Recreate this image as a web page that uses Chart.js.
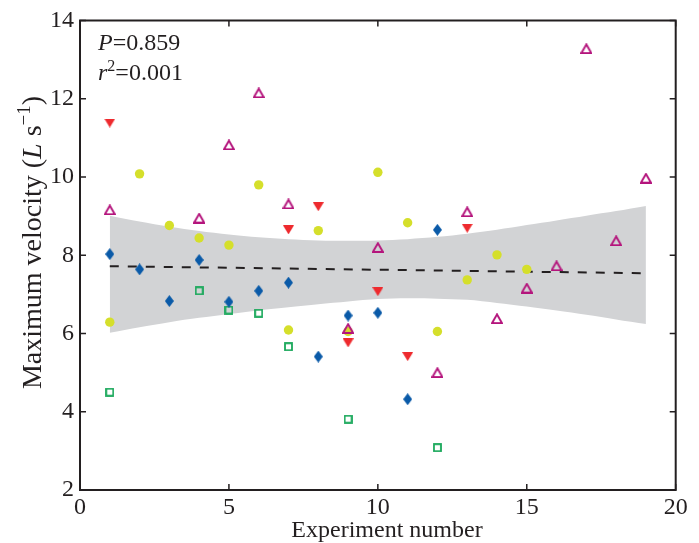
<!DOCTYPE html>
<html><head><meta charset="utf-8">
<script src="https://cdn.jsdelivr.net/npm/chart.js@4.4.1/dist/chart.umd.min.js"></script>
<style>html,body{margin:0;padding:0;background:#fff;}canvas{display:block;}</style>
</head><body>
<canvas id="c" width="699" height="543"></canvas>
<script>
// ---- data ----
const blueX = [1, 2, 3, 4, 5, 6, 7, 8, 9, 10, 11, 12];
const blueY = [8.03, 7.64, 6.83, 7.88, 6.81, 7.09, 7.30, 5.41, 6.46, 6.53, 4.32, 8.65];

const yellowX = [1, 2, 3, 4, 5, 6, 7, 8, 9, 10, 11, 12, 13, 14, 15];
const yellowY = [6.29, 10.08, 8.76, 8.44, 8.26, 9.80, 6.09, 8.63, 6.05, 10.12, 8.83, 6.05, 7.37, 8.01, 7.64];

const redX = [1, 7, 8, 9, 10, 11, 13];
const redY = [11.38, 8.65, 9.24, 5.76, 7.07, 5.41, 8.69];

const magentaX = [1, 4, 5, 6, 7, 9, 10, 12, 13, 14, 15, 16, 17, 18, 19];
const magentaY = [9.16, 8.95, 10.82, 12.15, 9.31, 6.13, 8.20, 5.00, 9.11, 6.38, 7.16, 7.73, 13.28, 8.37, 9.97];

const greenX = [1, 4, 5, 6, 7, 9, 12];
const greenY = [4.50, 7.09, 6.60, 6.52, 5.66, 3.81, 3.08];

const regX = [1, 19];
const regY = [7.72, 7.54];

const bandX = [1, 2, 3, 4, 5, 6, 7, 8, 9, 10, 11, 12, 13, 14, 15, 16, 17, 18, 19];
const bandUpper = [9.01, 8.86, 8.73, 8.62, 8.53, 8.46, 8.41, 8.38, 8.37, 8.38, 8.41, 8.47, 8.55, 8.65, 8.77, 8.89, 9.01, 9.13, 9.26];
const bandLower = [6.02, 6.16, 6.29, 6.40, 6.50, 6.59, 6.67, 6.75, 6.82, 6.88, 6.90, 6.89, 6.86, 6.78, 6.69, 6.59, 6.48, 6.36, 6.24];

const xTicks = [0, 5, 10, 15, 20];
const yTicks = [2, 4, 6, 8, 10, 12, 14];

const statP = '0.859';
const statR2 = '0.001';
const xTitle = 'Experiment number';

// ---- styling ----
const INK = '#231f20';
const FONT = '"Liberation Serif", "DejaVu Serif", serif';
const C_BLUE = '#0a5aa8', C_YEL = '#d5df2b', C_RED = '#ee2a2e', C_MAG = '#b4147c', C_GRN = '#19a85a', C_BAND = '#d2d3d5';

function pts(xs, ys) { return xs.map((x, i) => ({ x: x, y: ys[i] })); }

function mk(w, h, draw) {
  const c = document.createElement('canvas');
  c.width = w; c.height = h;
  draw(c.getContext('2d'));
  return c;
}
const diamond = mk(9, 12, g => {
  g.fillStyle = C_BLUE; g.beginPath();
  g.moveTo(4.5, 0); g.lineTo(9, 6); g.lineTo(4.5, 12); g.lineTo(0, 6); g.closePath(); g.fill();
});
const downTri = mk(11, 9, g => {
  g.fillStyle = C_RED; g.beginPath();
  g.moveTo(0, 0); g.lineTo(11, 0); g.lineTo(5.5, 9); g.closePath(); g.fill();
});
const upTri = mk(12, 11, g => {
  g.strokeStyle = C_MAG; g.lineWidth = 1.9; g.lineJoin = 'miter'; g.beginPath();
  g.moveTo(6, 1.3); g.lineTo(11, 10); g.lineTo(1, 10); g.closePath(); g.stroke();
});
const square = mk(9, 9, g => {
  g.strokeStyle = C_GRN; g.lineWidth = 1.8; g.strokeRect(1, 1, 7, 7);
});

const framePlugin = {
  id: 'frame',
  afterDraw(chart) {
    const ctx = chart.ctx, a = chart.chartArea, sx = chart.scales.x, sy = chart.scales.y;
    ctx.save();
    ctx.strokeStyle = INK;
    ctx.lineWidth = 2;
    ctx.strokeRect(a.left, a.top, a.right - a.left, a.bottom - a.top);
    ctx.lineWidth = 1.5;
    const TL = 6;
    ctx.beginPath();
    xTicks.forEach(v => {
      const px = sx.getPixelForValue(v);
      ctx.moveTo(px, a.bottom); ctx.lineTo(px, a.bottom - TL);
      ctx.moveTo(px, a.top); ctx.lineTo(px, a.top + TL);
    });
    yTicks.forEach(v => {
      const py = sy.getPixelForValue(v);
      ctx.moveTo(a.left, py); ctx.lineTo(a.left + TL, py);
      ctx.moveTo(a.right, py); ctx.lineTo(a.right - TL, py);
    });
    ctx.stroke();

    ctx.fillStyle = INK;
    ctx.textBaseline = 'alphabetic';
    function run(parts, x, y) {
      parts.forEach(p => {
        ctx.font = (p.it ? 'italic ' : '') + p.s + 'px ' + FONT;
        ctx.fillText(p.t, x, y + (p.dy || 0));
        x += ctx.measureText(p.t).width;
      });
      return x;
    }
    function width(parts) {
      let w = 0;
      parts.forEach(p => { ctx.font = (p.it ? 'italic ' : '') + p.s + 'px ' + FONT; w += ctx.measureText(p.t).width; });
      return w;
    }
    run([{ t: 'P', it: true, s: 24 }, { t: '=' + statP, s: 24 }], a.left + 18, 50);
    run([{ t: 'r', it: true, s: 24 }, { t: '2', s: 16, dy: -9 }, { t: '=' + statR2, s: 24 }], a.left + 18, 80);

    // x title
    ctx.font = '24px ' + FONT;
    ctx.textAlign = 'center';
    ctx.fillText(xTitle, 387, 537);
    ctx.textAlign = 'left';

    // y title (rotated)
    const yparts = [
      { t: 'Maximum velocity (', s: 28 },
      { t: 'L', it: true, s: 28 },
      { t: ' s', s: 28 },
      { t: '\u22121', s: 19, dy: -11 },
      { t: ')', s: 28 }
    ];
    const w = width(yparts);
    ctx.translate(41, 242.5);
    ctx.rotate(-Math.PI / 2);
    run(yparts, -w / 2, 0);
    ctx.restore();
  }
};

new Chart(document.getElementById('c'), {
  type: 'scatter',
  data: {
    datasets: [
      { label: 'blue', data: pts(blueX, blueY), pointStyle: diamond, order: 1 },
      { label: 'red', data: pts(redX, redY), pointStyle: downTri, order: 2 },
      { label: 'magenta', data: pts(magentaX, magentaY), pointStyle: upTri, order: 1 },
      { label: 'green', data: pts(greenX, greenY), pointStyle: square, order: 1 },
      { label: 'yellow', data: pts(yellowX, yellowY), pointStyle: 'circle', pointRadius: 4.7,
        backgroundColor: C_YEL, borderWidth: 0, order: 3 },
      { label: 'fit', type: 'line', data: pts(regX, regY), borderColor: INK, borderWidth: 2,
        borderDash: [9, 9], pointRadius: 0, fill: false, order: 8 },
      { label: 'upper', type: 'line', data: pts(bandX, bandUpper), borderWidth: 0, borderColor: 'rgba(0,0,0,0)',
        backgroundColor: C_BAND, pointRadius: 0, fill: '+1', tension: 0.3, order: 9 },
      { label: 'lower', type: 'line', data: pts(bandX, bandLower), borderWidth: 0, borderColor: 'rgba(0,0,0,0)',
        backgroundColor: C_BAND, pointRadius: 0, fill: false, tension: 0.3, order: 9 }
    ]
  },
  options: {
    responsive: false,
    animation: false,
    devicePixelRatio: 1,
    layout: { padding: { top: 20.5, right: 23.3, left: 0, bottom: 0 } },
    plugins: { legend: { display: false }, tooltip: { enabled: false } },
    elements: { point: { radius: 5, hoverRadius: 5 } },
    scales: {
      x: {
        type: 'linear', min: 0, max: 20,
        afterFit: s => { s.height = 53; },
        afterBuildTicks: s => { s.ticks = xTicks.map(v => ({ value: v })); },
        grid: { display: false, drawTicks: false },
        border: { display: false },
        ticks: { color: INK, font: { family: FONT, size: 24 }, padding: 3, maxRotation: 0, autoSkip: false }
      },
      y: {
        type: 'linear', min: 2, max: 14,
        afterFit: s => { s.width = 80; },
        afterBuildTicks: s => { s.ticks = yTicks.map(v => ({ value: v })); },
        grid: { display: false, drawTicks: false },
        border: { display: false },
        ticks: { color: INK, font: { family: FONT, size: 24 }, padding: 6 }
      }
    }
  },
  plugins: [framePlugin]
});
</script>
</body></html>
